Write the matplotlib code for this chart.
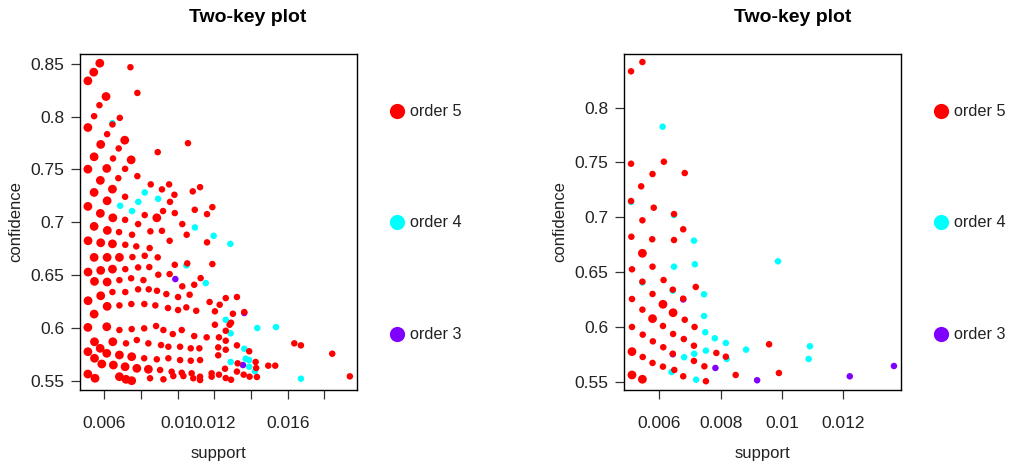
import matplotlib
matplotlib.use("Agg")
import matplotlib.pyplot as plt

plt.rcParams["font.family"] = ["Liberation Sans", "DejaVu Sans"]

# rules as (support, confidence, number of rules stacked at that spot)
left_order5 = [
    (0.00575, 0.8505, 2), (0.00542, 0.8420, 2), (0.00510, 0.8338, 2), (0.00742, 0.8467, 1),
    (0.00780, 0.8224, 1), (0.00609, 0.8190, 2), (0.00573, 0.8108, 1), (0.00684, 0.7988, 1),
    (0.00544, 0.8004, 1), (0.00644, 0.7926, 1), (0.00510, 0.7897, 2), (0.00615, 0.7834, 1),
    (0.00711, 0.7777, 2), (0.01056, 0.7749, 1), (0.00580, 0.7737, 2), (0.00678, 0.7699, 1),
    (0.00891, 0.7664, 1), (0.00544, 0.7620, 2), (0.00647, 0.7604, 1), (0.00746, 0.7591, 2),
    (0.00510, 0.7503, 2), (0.00613, 0.7510, 2), (0.00713, 0.7506, 1), (0.00780, 0.7437, 1),
    (0.00578, 0.7397, 2), (0.00676, 0.7418, 1), (0.00853, 0.7359, 1), (0.00953, 0.7359, 1),
    (0.01122, 0.7333, 1), (0.01082, 0.7293, 1), (0.00544, 0.7283, 2), (0.00644, 0.7314, 2),
    (0.00914, 0.7312, 1), (0.00982, 0.7261, 1), (0.00713, 0.7242, 1), (0.00615, 0.7204, 2),
    (0.00958, 0.7194, 1), (0.00510, 0.7151, 2), (0.01189, 0.7144, 1), (0.01093, 0.7119, 1),
    (0.00920, 0.7107, 1), (0.00984, 0.7088, 1), (0.01160, 0.7078, 1), (0.00578, 0.7085, 2),
    (0.00820, 0.7069, 1), (0.00886, 0.7043, 2), (0.00646, 0.7043, 2), (0.00713, 0.7024, 1),
    (0.01160, 0.6811, 1), (0.01049, 0.6883, 1), (0.01025, 0.6984, 1), (0.00784, 0.6984, 1),
    (0.00544, 0.6962, 2), (0.00616, 0.6924, 2), (0.00680, 0.6908, 1), (0.00751, 0.6883, 1),
    (0.00851, 0.6915, 1), (0.00914, 0.6920, 1), (0.00511, 0.6826, 2), (0.00580, 0.6807, 2),
    (0.00644, 0.6797, 2), (0.00714, 0.6788, 1), (0.00774, 0.6773, 1), (0.00847, 0.6757, 1),
    (0.00956, 0.6826, 1), (0.00544, 0.6669, 2), (0.00615, 0.6669, 2), (0.00682, 0.6669, 2),
    (0.00753, 0.6672, 1), (0.00820, 0.6684, 1), (0.00891, 0.6669, 1), (0.00984, 0.6599, 1),
    (0.01189, 0.6606, 1), (0.01052, 0.6612, 1), (0.00511, 0.6530, 2), (0.00580, 0.6546, 2),
    (0.00644, 0.6558, 2), (0.00714, 0.6558, 1), (0.00784, 0.6574, 1), (0.00845, 0.6577, 1),
    (0.00894, 0.6505, 1), (0.00956, 0.6511, 1), (0.01025, 0.6395, 1), (0.01090, 0.6410, 1),
    (0.01125, 0.6473, 1), (0.00546, 0.6442, 2), (0.00615, 0.6436, 2), (0.00682, 0.6454, 1),
    (0.00746, 0.6471, 1), (0.00813, 0.6454, 1), (0.00580, 0.6306, 2), (0.00644, 0.6341, 1),
    (0.00714, 0.6341, 1), (0.00784, 0.6367, 1), (0.00842, 0.6367, 1), (0.00887, 0.6353, 1),
    (0.00938, 0.6322, 1), (0.01002, 0.6294, 1), (0.01065, 0.6316, 1), (0.00511, 0.6259, 2),
    (0.00615, 0.6206, 2), (0.00682, 0.6215, 1), (0.00747, 0.6228, 1), (0.00818, 0.6228, 1),
    (0.00878, 0.6215, 1), (0.00947, 0.6190, 1), (0.01002, 0.6171, 1), (0.01047, 0.6196, 1),
    (0.01101, 0.6164, 1), (0.01174, 0.6247, 1), (0.00544, 0.6133, 2),
    (0.00510, 0.6007, 2), (0.00613, 0.6013, 2), (0.00682, 0.5982, 1), (0.00749, 0.5991, 1),
    (0.00817, 0.5998, 1), (0.00882, 0.6020, 1), (0.00922, 0.5982, 1), (0.00973, 0.5944, 1),
    (0.01022, 0.5982, 1), (0.01090, 0.5925, 1), (0.01158, 0.5913, 1), (0.00546, 0.5871, 2),
    (0.00577, 0.5809, 2), (0.00646, 0.5871, 2), (0.00718, 0.5856, 1), (0.00777, 0.5887, 1),
    (0.00840, 0.5856, 1), (0.00909, 0.5840, 1), (0.00949, 0.5824, 1), (0.01013, 0.5824, 1),
    (0.01071, 0.5809, 1), (0.01118, 0.5809, 1), (0.00510, 0.5777, 2), (0.00613, 0.5762, 2),
    (0.00682, 0.5746, 2), (0.00749, 0.5730, 2), (0.00817, 0.5715, 1), (0.00886, 0.5705, 1),
    (0.00949, 0.5715, 1), (0.01013, 0.5698, 1), (0.01071, 0.5692, 1), (0.01122, 0.5698, 1),
    (0.00546, 0.5715, 2), (0.00586, 0.5661, 2), (0.00649, 0.5651, 2), (0.00713, 0.5635, 2),
    (0.00777, 0.5620, 2), (0.00840, 0.5611, 2), (0.00904, 0.5604, 1), (0.00967, 0.5588, 1),
    (0.01022, 0.5578, 1), (0.01076, 0.5573, 1), (0.01122, 0.5541, 1), (0.01185, 0.5573, 1),
    (0.00510, 0.5566, 2), (0.00549, 0.5526, 2), (0.00682, 0.5541, 2), (0.00718, 0.5516, 2),
    (0.00749, 0.5503, 2), (0.00849, 0.5526, 1), (0.00922, 0.5516, 1), (0.00976, 0.5547, 1),
    (0.01031, 0.5547, 1), (0.01085, 0.5526, 1), (0.01122, 0.5509, 1), (0.01185, 0.5541, 1),
    (0.01262, 0.6284, 1), (0.01323, 0.6294, 1), (0.01229, 0.6221, 1), (0.01203, 0.6159, 1),
    (0.01363, 0.6152, 1), (0.01301, 0.6136, 1), (0.01291, 0.6051, 1), (0.01283, 0.6032, 1),
    (0.01262, 0.5975, 1), (0.01203, 0.6032, 1), (0.01225, 0.5913, 1), (0.01262, 0.5881, 1),
    (0.01323, 0.5837, 1), (0.01636, 0.5856, 1), (0.01672, 0.5837, 1), (0.01843, 0.5758, 1),
    (0.01939, 0.5544, 1), (0.01390, 0.5781, 1), (0.01221, 0.5818, 1), (0.01262, 0.5796, 1),
    (0.01221, 0.5743, 1), (0.01327, 0.5667, 1), (0.01425, 0.5680, 1), (0.01428, 0.5623, 1),
    (0.01494, 0.5645, 1), (0.01532, 0.5645, 1), (0.01258, 0.5616, 1), (0.01225, 0.5560, 1),
    (0.01262, 0.5528, 1), (0.01291, 0.5512, 1), (0.01323, 0.5589, 1), (0.01360, 0.5560, 1),
    (0.01392, 0.5541, 1), (0.01432, 0.5538, 1),
]
left_order4 = [
    (0.00820, 0.7283, 1), (0.00893, 0.7223, 1), (0.00785, 0.7194, 1), (0.00686, 0.7157, 1),
    (0.00751, 0.7107, 1), (0.00644, 0.7938, 1), (0.01287, 0.6797, 1), (0.01196, 0.6873, 1),
    (0.01094, 0.6952, 1), (0.01047, 0.6593, 1), (0.01153, 0.6426, 1), (0.01262, 0.6079, 1),
    (0.01434, 0.6001, 1), (0.01536, 0.6010, 1), (0.01289, 0.5951, 1), (0.01363, 0.5805, 1),
    (0.01371, 0.5711, 1), (0.01389, 0.5698, 1), (0.01289, 0.5680, 1), (0.01390, 0.5635, 1),
    (0.01421, 0.5592, 1), (0.01672, 0.5522, 1),
]
left_order3 = [
    (0.00987, 0.6464, 1), (0.01363, 0.6143, 1), (0.01356, 0.5651, 1),
]

right_order5 = [
    (0.00508, 0.8331, 1), (0.00545, 0.8416, 1), (0.00508, 0.7488, 1), (0.00615, 0.7506, 1),
    (0.00578, 0.7394, 1), (0.00683, 0.7403, 1), (0.00541, 0.7282, 1), (0.00508, 0.7148, 1),
    (0.00582, 0.7087, 1), (0.00648, 0.7029, 1), (0.00545, 0.6972, 1), (0.00678, 0.6890, 1),
    (0.00509, 0.6822, 1), (0.00577, 0.6799, 1), (0.00648, 0.6792, 1), (0.00545, 0.6671, 2),
    (0.00511, 0.6525, 1), (0.00578, 0.6549, 1), (0.00614, 0.6427, 1), (0.00545, 0.6412, 1),
    (0.00644, 0.6339, 1), (0.00719, 0.6364, 1), (0.00578, 0.6300, 1), (0.00511, 0.6254, 1),
    (0.00678, 0.6257, 1), (0.00612, 0.6206, 2), (0.00545, 0.6157, 1), (0.00645, 0.6129, 2),
    (0.00578, 0.6075, 2), (0.00683, 0.6065, 1), (0.00511, 0.5999, 1), (0.00612, 0.6008, 1),
    (0.00715, 0.5999, 1), (0.00645, 0.5935, 1), (0.00546, 0.5929, 1), (0.00680, 0.5889, 1),
    (0.00579, 0.5868, 1), (0.00958, 0.5841, 1), (0.00613, 0.5814, 1), (0.00713, 0.5828, 1),
    (0.00511, 0.5774, 2), (0.00786, 0.5762, 1), (0.00817, 0.5728, 1), (0.00644, 0.5755, 1),
    (0.00546, 0.5725, 1), (0.00578, 0.5671, 1), (0.00612, 0.5637, 1), (0.00713, 0.5689, 1),
    (0.00747, 0.5640, 1), (0.00649, 0.5607, 1), (0.00678, 0.5549, 1), (0.00752, 0.5504, 1),
    (0.00849, 0.5561, 1), (0.00990, 0.5579, 1), (0.00511, 0.5561, 2), (0.00545, 0.5522, 2),
]
right_order4 = [
    (0.00611, 0.7826, 1), (0.00713, 0.6786, 1), (0.00987, 0.6598, 1), (0.00648, 0.6549, 1),
    (0.00716, 0.6571, 1), (0.00746, 0.6297, 1), (0.00746, 0.6099, 1), (0.00750, 0.5951, 1),
    (0.00781, 0.5896, 1), (0.00817, 0.5853, 1), (0.01091, 0.5823, 1), (0.00883, 0.5792, 1),
    (0.00752, 0.5783, 1), (0.00681, 0.5723, 1), (0.00820, 0.5707, 1), (0.01087, 0.5707, 1),
    (0.00640, 0.5588, 1), (0.00720, 0.5518, 1), (0.00508, 0.7140, 1), (0.00648, 0.7020, 1),
    (0.00545, 0.6405, 1), (0.00644, 0.6330, 1), (0.00714, 0.5754, 1),
]
right_order3 = [
    (0.00783, 0.5625, 1), (0.00919, 0.5513, 1), (0.01221, 0.5549, 1), (0.01365, 0.5643, 1),
    (0.00678, 0.6250, 1), (0.00644, 0.5750, 1),
]

order_colors = {5: "#FF0000", 4: "#00FFFF", 3: "#8000FF"}

W, H = 1025, 465
fig = plt.figure(figsize=(W / 100, H / 100), dpi=100)


def panel(x0, x1, y0, y1, series, xlim, ylim, xticks, xlabels, yticks, ylabels):
    ax = fig.add_axes([x0 / W, 1 - y1 / H, (x1 - x0) / W, (y1 - y0) / H])
    for order in (3, 4, 5):
        pts = series[order]
        sx = [p[0] for p in pts]
        sy = [p[1] for p in pts]
        sz = [22 if p[2] == 1 else 40 for p in pts]
        ax.scatter(sx, sy, s=sz, c=order_colors[order], linewidths=0, zorder=3)
    ax.set_xlim(*xlim)
    ax.set_ylim(*ylim)
    ax.set_xticks(xticks)
    ax.set_xticklabels(xlabels)
    ax.set_yticks(yticks)
    ax.set_yticklabels(ylabels)
    ax.tick_params(direction="out", length=6.5, width=0.9, labelsize=12.5,
                   colors="#333333", labelcolor="#222222", pad=5)
    ax.tick_params(axis="x", pad=12)
    for sp in ax.spines.values():
        sp.set_linewidth(1.0)
        sp.set_color("black")
    ax.set_xlabel("support", fontsize=12, color="#222222", labelpad=11)
    ax.set_ylabel("confidence", fontsize=12, color="#222222", labelpad=5)
    return ax


ax1 = panel(80, 357, 54, 390,
            {5: left_order5, 4: left_order4, 3: left_order3},
            (0.00467, 0.01978), (0.5415, 0.8592),
            [0.006, 0.008, 0.010, 0.012, 0.014, 0.016, 0.018],
            ["0.006", "", "0.01", "0.012", "", "0.016", ""],
            [0.55, 0.60, 0.65, 0.70, 0.75, 0.80, 0.85],
            ["0.55", "0.6", "0.65", "0.7", "0.75", "0.8", "0.85"])
ax2 = panel(624, 901, 54, 390,
            {5: right_order5, 4: right_order4, 3: right_order3},
            (0.00485, 0.01388), (0.5424, 0.8489),
            [0.006, 0.008, 0.010, 0.012],
            ["0.006", "0.008", "0.01", "0.012"],
            [0.55, 0.60, 0.65, 0.70, 0.75, 0.80],
            ["0.55", "0.6", "0.65", "0.7", "0.75", "0.8"])

# titles and the order legends, placed in figure pixels
over = fig.add_axes([0, 0, 1, 1])
over.set_xlim(0, W)
over.set_ylim(H, 0)
over.axis("off")
for cx in (248, 793):
    over.text(cx, 17, "Two-key plot", ha="center", va="center",
              fontsize=14, fontweight="bold", color="black")
for lx in (397, 941):
    for ly, order in ((111, 5), (222, 4), (334, 3)):
        over.scatter([lx], [ly], s=120, c=order_colors[order], linewidths=0)
        over.text(lx + 13, ly, "order %d" % order, ha="left", va="center",
                  fontsize=11.7, color="#222222")

fig.savefig("out.png", dpi=100)
